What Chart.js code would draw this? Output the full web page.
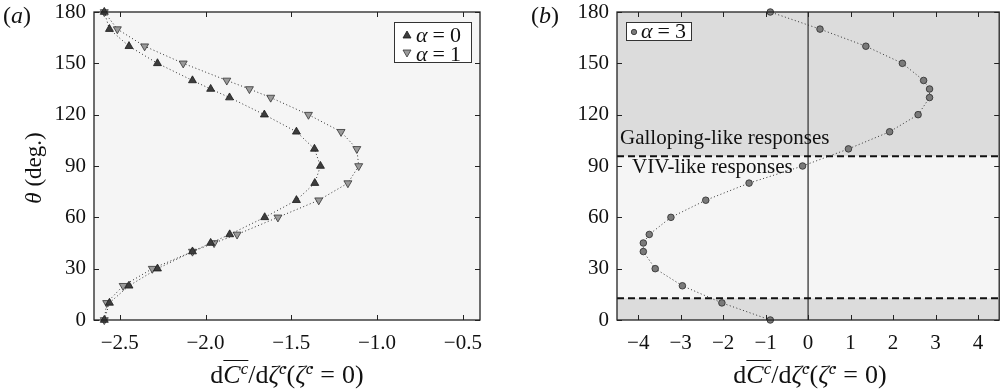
<!DOCTYPE html>
<html>
<head>
<meta charset="utf-8">
<script src="https://cdn.jsdelivr.net/npm/chart.js@4.4.0/dist/chart.umd.min.js"></script>
<style>
    body { margin: 0; width: 1004px; height: 391px; position: relative; overflow: hidden; background: #fff;
           font-family: "Liberation Serif", "DejaVu Serif", serif; color: #111; }
    canvas { position: absolute; top: 0; }
    .txt { position: absolute; white-space: nowrap; line-height: 1; font-size: 21px; }
    .xlab { font-size: 26px; }
    .ov { display: inline-block; border-top: 1px solid #111; padding-top: 1px; line-height: 1; }
    sup { font-size: 17px; vertical-align: 9px; line-height: 0; }
    .eq { margin: 0 5px; }
    .xlab .eq { margin: 0 7px; }
    .legend { position: absolute; border: 1px solid #333; background: #fff; box-sizing: border-box; }
    .legend .row { position: absolute; left: 0; white-space: nowrap; font-size: 22px; line-height: 1; }
    .legend svg { position: absolute; }
</style>
</head>
<body>
<canvas id="chartA" width="500" height="391" style="left:0"></canvas>
<canvas id="chartB" width="504" height="391" style="left:500px"></canvas>

<div class="txt" style="left:3px;top:3px;font-size:24px">(<i>a</i>)</div>
<div class="txt" style="left:531px;top:3px;font-size:24px">(<i>b</i>)</div>

<div class="txt" style="left:33px;top:168px;transform:translate(-50%,-50%) rotate(-90deg);font-size:23px"><i>θ</i> (deg.)</div>

<div class="txt xlab" style="left:287px;top:360px;transform:translateX(-50%)">d<span class="ov"><i>C</i><sup><i>c</i></sup></span>/d<i>ζ̇</i><sup><i>c</i></sup>(<i>ζ̇</i><sup><i>c</i></sup><span class="eq">=</span>0)</div>
<div class="txt xlab" style="left:810px;top:360px;transform:translateX(-50%)">d<span class="ov"><i>C</i><sup><i>c</i></sup></span>/d<i>ζ̇</i><sup><i>c</i></sup>(<i>ζ̇</i><sup><i>c</i></sup><span class="eq">=</span>0)</div>

<div class="txt" style="left:620px;top:127px">Galloping-like responses</div>
<div class="txt" style="left:632px;top:156px">VIV-like responses</div>

<div class="legend" style="left:394px;top:22px;width:78px;height:41px">
    <svg style="left:7px;top:7px" width="10" height="9"><polygon points="5,1 9,8 1,8" fill="#3d3d3d" stroke="#1a1a1a" stroke-width="0.8"/></svg>
    <div class="row" style="left:21px;top:1px"><i>α</i><span class="eq">=</span>0</div>
    <svg style="left:7px;top:26px" width="10" height="9"><polygon points="1,1 9,1 5,8" fill="#9a9a9a" stroke="#333" stroke-width="0.8"/></svg>
    <div class="row" style="left:21px;top:20px"><i>α</i><span class="eq">=</span>1</div>
</div>
<div class="legend" style="left:626px;top:22px;width:66px;height:19px">
    <svg style="left:3px;top:5px" width="8" height="8"><circle cx="4" cy="4" r="2.7" fill="#7a7a7a" stroke="#2a2a2a" stroke-width="0.8"/></svg>
    <div class="row" style="left:14px;top:-3px"><i>α</i><span class="eq">=</span>3</div>
</div>

<script>
// Angle of incidence (deg.), shared by all series
const theta = [0, 10, 20, 30, 40, 45, 50, 60, 70, 80, 90, 100, 110, 120, 130, 135, 140, 150, 160, 170, 180];

// dC/dzeta (zeta = 0)
const slopeAlpha0 = [-2.59, -2.56, -2.446, -2.28, -2.076, -1.97, -1.859, -1.655, -1.47, -1.363, -1.33,
                     -1.365, -1.47, -1.657, -1.86, -1.97, -2.076, -2.28, -2.446, -2.56, -2.59];
const slopeAlpha1 = [-2.59, -2.576, -2.48, -2.31, -2.076, -1.95, -1.816, -1.578, -1.34, -1.17, -1.107,
                     -1.118, -1.21, -1.40, -1.62, -1.744, -1.876, -2.13, -2.355, -2.514, -2.59];
const slopeAlpha3 = [-0.89, -2.03, -2.96, -3.6, -3.88, -3.88, -3.74, -3.23, -2.41, -1.39, -0.13,
                     0.95, 1.92, 2.59, 2.86, 2.86, 2.72, 2.22, 1.36, 0.28, -0.89];

// Boundaries between galloping-like and VIV-like regimes (deg.)
const regimeBounds = [12.7, 95.7];

// Axis ticks
const thetaTicks = [0, 30, 60, 90, 120, 150, 180];
const xTicksA = [-2.5, -2.0, -1.5, -1.0, -0.5];
const xTickLabelsA = ['\u22122.5', '\u22122.0', '\u22121.5', '\u22121.0', '\u22120.5'];
const xTicksB = [-4, -3, -2, -1, 0, 1, 2, 3, 4];
const xTickLabelsB = ['\u22124', '\u22123', '\u22122', '\u22121', '0', '1', '2', '3', '4'];

const FONT = { family: 'Liberation Serif', size: 21 };

function toPoints(xs) {
    return xs.map((v, i) => ({ x: v, y: theta[i] }));
}

/**
 * Background, regime bands, frame and inward tick marks
 */
const framePlugin = {
    id: 'frame',
    beforeDatasetsDraw(chart, args, opts) {
        const { ctx, chartArea: a, scales: { x, y } } = chart;
        ctx.save();
        ctx.fillStyle = opts.base;
        ctx.fillRect(a.left, a.top, a.width, a.height);

        if (opts.bands) {
            const lo = y.getPixelForValue(opts.bands[0]);
            const hi = y.getPixelForValue(opts.bands[1]);
            ctx.fillStyle = opts.bandColor;
            ctx.fillRect(a.left, a.top, a.width, hi - a.top);
            ctx.fillRect(a.left, lo, a.width, a.bottom - lo);

            // zero line
            const x0 = x.getPixelForValue(0);
            ctx.strokeStyle = '#5a5a5a';
            ctx.lineWidth = 1.6;
            ctx.beginPath();
            ctx.moveTo(x0, a.top);
            ctx.lineTo(x0, a.bottom);
            ctx.stroke();

            // regime boundaries
            ctx.strokeStyle = '#111';
            ctx.lineWidth = 2.2;
            ctx.setLineDash([7, 4]);
            [lo, hi].forEach(py => {
                ctx.beginPath();
                ctx.moveTo(a.left, py);
                ctx.lineTo(a.right, py);
                ctx.stroke();
            });
        }
        ctx.restore();
    },
    afterDatasetsDraw(chart) {
        const { ctx, chartArea: a, scales: { x, y } } = chart;
        ctx.save();
        ctx.strokeStyle = '#222';
        ctx.lineWidth = 1;
        ctx.beginPath();
        x.ticks.forEach(t => {
            const px = Math.round(x.getPixelForValue(t.value)) + 0.5;
            ctx.moveTo(px, a.bottom); ctx.lineTo(px, a.bottom - 5);
            ctx.moveTo(px, a.top); ctx.lineTo(px, a.top + 5);
        });
        y.ticks.forEach(t => {
            const py = Math.round(y.getPixelForValue(t.value)) + 0.5;
            ctx.moveTo(a.left, py); ctx.lineTo(a.left + 5, py);
            ctx.moveTo(a.right, py); ctx.lineTo(a.right - 5, py);
        });
        ctx.stroke();
        ctx.lineWidth = 1.3;
        ctx.strokeRect(a.left, a.top, a.width, a.height);
        ctx.restore();
    }
};

function makeOptions(xMin, xMax, xTicks, xLabels, yWidth, rightPad, frameOpts) {
    return {
        responsive: false,
        animation: false,
        layout: { padding: { top: 12, right: rightPad, bottom: 0, left: 0 } },
        plugins: {
            legend: { display: false },
            tooltip: { enabled: false },
            frame: frameOpts
        },
        scales: {
            x: {
                type: 'linear',
                min: xMin,
                max: xMax,
                afterBuildTicks: s => { s.ticks = xTicks.map(v => ({ value: v })); },
                afterFit: s => { s.height = 71; s.paddingLeft = 0; s.paddingRight = 0; },
                grid: { display: false, drawTicks: false },
                border: { display: false },
                ticks: {
                    font: FONT,
                    color: '#111',
                    padding: 11,
                    maxRotation: 0,
                    callback: (v) => xLabels[xTicks.indexOf(v)]
                }
            },
            y: {
                type: 'linear',
                min: 0,
                max: 180,
                afterBuildTicks: s => { s.ticks = thetaTicks.map(v => ({ value: v })); },
                afterFit: s => { s.width = yWidth; s.paddingTop = 0; s.paddingBottom = 0; },
                grid: { display: false, drawTicks: false },
                border: { display: false },
                ticks: { font: FONT, color: '#111', padding: 8 }
            }
        }
    };
}

const lineStyle = {
    borderColor: '#333',
    borderWidth: 1,
    borderDash: [1, 2.5],
    showLine: true,
    clip: false,
    pointBorderWidth: 0.8
};

new Chart(document.getElementById('chartA'), {
    type: 'line',
    data: {
        datasets: [
            Object.assign({}, lineStyle, {
                label: '\u03b1 = 0',
                data: toPoints(slopeAlpha0),
                pointStyle: 'triangle',
                pointRadius: 4.6,
                pointBackgroundColor: '#3d3d3d',
                pointBorderColor: '#1a1a1a'
            }),
            Object.assign({}, lineStyle, {
                label: '\u03b1 = 1',
                data: toPoints(slopeAlpha1),
                pointStyle: 'triangle',
                pointRotation: 180,
                pointRadius: 4.6,
                pointBackgroundColor: '#9a9a9a',
                pointBorderColor: '#333'
            })
        ]
    },
    options: makeOptions(-2.65, -0.4, xTicksA, xTickLabelsA, 94, 20, { base: '#f5f5f5' }),
    plugins: [framePlugin]
});

new Chart(document.getElementById('chartB'), {
    type: 'line',
    data: {
        datasets: [
            Object.assign({}, lineStyle, {
                label: '\u03b1 = 3',
                data: toPoints(slopeAlpha3),
                pointStyle: 'circle',
                pointRadius: 3.3,
                pointBackgroundColor: '#7a7a7a',
                pointBorderColor: '#2a2a2a'
            })
        ]
    },
    options: makeOptions(-4.5, 4.5, xTicksB, xTickLabelsB, 117, 1,
        { base: '#f5f5f5', bands: regimeBounds, bandColor: '#dcdcdc' }),
    plugins: [framePlugin]
});
</script>
</body>
</html>
